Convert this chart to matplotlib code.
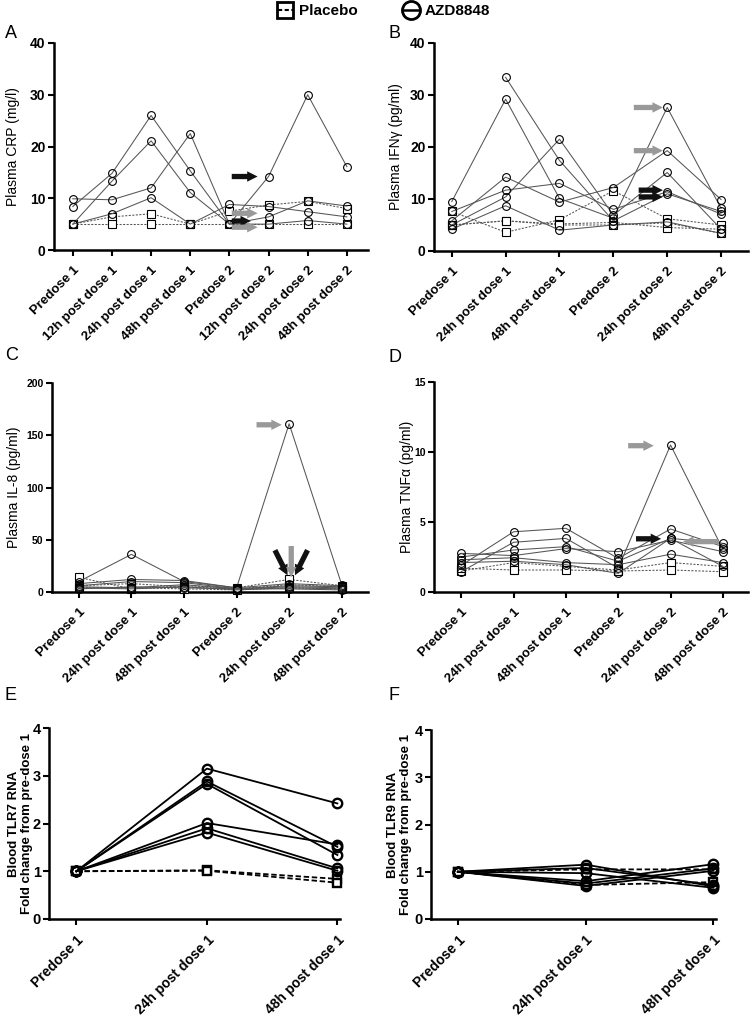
import numpy as np
import matplotlib
matplotlib.use('Agg')
import matplotlib.pyplot as plt
from matplotlib.lines import Line2D

plt.rcParams['font.family'] = ['Liberation Sans', 'DejaVu Sans']

nan = np.nan

# ---------------- data ----------------
crp_categories = ['Predose 1', '12h post dose 1', '24h post dose 1', '48h post dose 1',
                  'Predose 2', '12h post dose 2', '24h post dose 2', '48h post dose 2']
crp_azd = [
    [8.4, 14.8, 26.0, 15.3, 5.0, 14.2, 30.0, 16.1],
    [5.0, 13.3, 21.1, 11.1, 5.0, 6.4, 9.5, 8.5],
    [9.9, 9.7, 12.0, 22.5, 5.0, 5.0, 5.7, 5.0],
    [5.0, 7.0, 10.1, 5.0, 8.8, 8.4, 7.4, 6.4],
]
crp_placebo = [
    [5.0, 6.4, 7.0, 5.0, 7.5, 8.7, 9.4, 8.0],
    [5.0, 5.0, 5.0, 5.0, 5.0, 5.0, 5.0, 5.0],
]

six_categories = ['Predose 1', '24h post dose 1', '48h post dose 1',
                  'Predose 2', '24h post dose 2', '48h post dose 2']
ifn_azd = [
    [4.2, 8.7, 4.0, 5.0, 5.6, 3.4],
    [9.5, 29.2, 10.1, 6.3, 27.6, 8.2],
    [nan, 33.4, 17.4, 5.8, 11.0, 7.6],
    [5.0, 10.4, 21.5, 6.9, 15.1, 4.2],
    [5.8, 14.2, 9.4, 12.2, 19.3, 9.9],
    [7.6, 11.7, 13.0, 8.0, 11.4, 7.1],
]
ifn_placebo = [
    [7.6, 3.6, 6.0, 11.6, 6.2, 5.0],
    [5.0, 5.8, 5.2, 5.5, 4.5, 4.2],
    [5.0, 5.8, 5.0, 5.0, 5.4, 3.4],
]

il8_azd = [
    [10, 36, 10, 4, 161, 7],
    [8, 12, 11, 4, 8, 6],
    [6, 10, 9, 3, 6, 5],
    [5, 4, 7, 3, 5, 4],
    [4, 3, 5, 2, 4, 3],
    [3, 5, 4, 3, 3, 2],
]
il8_placebo = [
    [14, 3, 6, 4, 12, 6],
    [6, 8, 5, 3, 7, 5],
    [4, 4, 3, 2, 4, 3],
]

tnf_azd = [
    [1.45, 3.55, 3.83, 1.70, 10.5, 3.05],
    [1.90, 4.30, 4.55, 2.40, 4.50, 3.24],
    [2.50, 3.00, 3.24, 2.20, 3.83, 3.48],
    [2.76, 2.60, 3.10, 2.88, 3.70, 2.88],
    [2.30, 2.45, 2.10, 1.95, 2.70, 2.10],
    [2.10, 2.20, 1.95, 1.33, 3.83, 1.83],
]
tnf_placebo = [
    [1.50, 2.10, 1.83, 1.57, 2.10, 1.83],
    [1.70, 1.57, 1.57, 1.50, 1.57, 1.45],
]

tlr_categories = ['Predose 1', '24h post dose 1', '48h post dose 1']
tlr7_azd = [
    [1, 3.15, 2.42],
    [1, 2.88, 1.51],
    [1, 2.83, 1.34],
    [1, 2.01, 1.56],
    [1, 1.90, 1.06],
    [1, 1.81, 1.01],
]
tlr7_placebo = [
    [1, 1.02, 0.84],
    [1, 1.01, 0.76],
]
tlr9_azd = [
    [1, 1.15, 0.69],
    [1, 1.08, 0.72],
    [1, 0.97, 0.66],
    [1, 0.80, 1.16],
    [1, 0.75, 1.07],
    [1, 0.70, 1.02],
]
tlr9_placebo = [
    [1, 1.05, 1.05],
    [1, 0.72, 0.78],
]

# ---------------- figure ----------------
W, H = 752, 1018
fig = plt.figure(figsize=(W / 100, H / 100), dpi=100)


def make_axes(l, t, r, b):
    return fig.add_axes([l / W, 1 - b / H, (r - l) / W, (b - t) / H])


def draw_panel(ax, cats, azd, placebo, ylim, yticks, xlim, bold_style=False,
               ytick_size=10, xtick_size=9.5):
    x = np.arange(len(cats))
    if bold_style:
        lc, lw, ms, mew = 'black', 1.3, 6.8, 1.7
        dash = (3, 1.5)
    else:
        lc, lw, ms, mew = '#555555', 0.75, 5.6, 0.8
        dash = (2, 1.4)
    for row in placebo:
        ax.plot(x, row, color=lc, lw=lw, ls=(0, dash), marker='s', ms=ms * 0.95,
                mfc='white', mec='black', mew=mew, clip_on=False, zorder=3)
    for row in azd:
        ax.plot(x, row, color=lc, lw=lw, ls='-', marker='o', ms=ms,
                mfc='none', mec='black', mew=mew, clip_on=False, zorder=4)
    ax.set_xlim(*xlim)
    ax.set_ylim(*ylim)
    ax.set_yticks(yticks)
    ax.set_yticklabels([str(v) for v in yticks], fontweight='bold', fontsize=ytick_size)
    ax.set_xticks(x)
    ax.set_xticklabels(cats, rotation=45, ha='right', rotation_mode='anchor',
                       fontweight='bold', fontsize=xtick_size)
    for s in ['top', 'right']:
        ax.spines[s].set_visible(False)
    for s in ['left', 'bottom']:
        ax.spines[s].set_linewidth(1.8)
    ax.tick_params(axis='y', direction='out', length=4, width=1.5, pad=2)
    ax.tick_params(axis='x', direction='out', length=4, width=1.5, pad=6)


def arrow(ax, tail, head, color):
    ax.annotate('', xy=head, xytext=tail,
                arrowprops=dict(arrowstyle='simple,head_length=0.75,head_width=0.75,tail_width=0.38',
                                color=color, shrinkA=0, shrinkB=0, lw=0),
                zorder=6, annotation_clip=False)


GRAY = '#999999'
BLACK = '#111111'

# Panel A
axA = make_axes(54, 43, 368, 250)
draw_panel(axA, crp_categories, crp_azd, crp_placebo, (0, 40), [0, 10, 20, 30, 40], (-0.48, 7.54))
axA.set_ylabel('Plasma CRP (mg/l)', fontsize=10)
axA.yaxis.set_label_coords(-0.108, 0.5)
arrow(axA, (4.06, 14.2), (4.72, 14.2), BLACK)
arrow(axA, (4.06, 5.6), (4.55, 5.6), BLACK)
arrow(axA, (4.06, 7.1), (4.72, 7.1), GRAY)
arrow(axA, (4.06, 4.4), (4.72, 4.4), GRAY)

# Panel B
axB = make_axes(434, 43, 748, 251)
draw_panel(axB, six_categories, ifn_azd, ifn_placebo, (0, 40), [0, 10, 20, 30, 40], (-0.33, 5.5))
axB.set_ylabel('Plasma IFNγ (pg/ml)', fontsize=10)
axB.yaxis.set_label_coords(-0.099, 0.5)
arrow(axB, (3.38, 27.6), (3.92, 27.6), GRAY)
arrow(axB, (3.38, 19.3), (3.92, 19.3), GRAY)
arrow(axB, (3.47, 11.7), (3.92, 11.7), BLACK)
arrow(axB, (3.47, 10.4), (3.92, 10.4), BLACK)

# Panel C
axC = make_axes(52, 383, 368, 592)
draw_panel(axC, six_categories, il8_azd, il8_placebo, (0, 200), [0, 50, 100, 150, 200], (-0.51, 5.5),
           ytick_size=7.5)
axC.set_ylabel('Plasma IL-8 (pg/ml)', fontsize=10)
axC.yaxis.set_label_coords(-0.098, 0.5)
arrow(axC, (3.38, 160), (3.86, 160), GRAY)
arrow(axC, (3.73, 40), (3.97, 16), BLACK)
arrow(axC, (4.35, 40), (4.11, 16), BLACK)
arrow(axC, (4.04, 44), (4.04, 14), GRAY)

# Panel D
axD = make_axes(434, 382, 748, 592)
draw_panel(axD, six_categories, tnf_azd, tnf_placebo, (0, 15), [0, 5, 10, 15], (-0.52, 5.48),
           ytick_size=7.5)
axD.set_ylabel('Plasma TNFα (pg/ml)', fontsize=10)
axD.yaxis.set_label_coords(-0.064, 0.5)
arrow(axD, (3.19, 10.45), (3.68, 10.45), GRAY)
arrow(axD, (3.34, 3.8), (3.82, 3.8), BLACK)
arrow(axD, (4.92, 3.6), (4.24, 3.6), GRAY)

# Panel E
axE = make_axes(49, 728, 340, 919)
draw_panel(axE, tlr_categories, tlr7_azd, tlr7_placebo, (0, 4), [0, 1, 2, 3, 4], (-0.21, 2.02),
           bold_style=True, ytick_size=10.5, xtick_size=10)
axE.set_ylabel('Blood TLR7 RNA\nFold change from pre-dose 1', fontsize=9.5, fontweight='bold',
               linespacing=1.15)
axE.yaxis.set_label_coords(-0.055, 0.5)

# Panel F
axF = make_axes(431, 730, 716, 919)
draw_panel(axF, tlr_categories, tlr9_azd, tlr9_placebo, (0, 4), [0, 1, 2, 3, 4], (-0.21, 2.02),
           bold_style=True, ytick_size=10.5, xtick_size=10)
axF.set_ylabel('Blood TLR9 RNA\nFold change from pre-dose 1', fontsize=9.5, fontweight='bold',
               linespacing=1.15)
axF.yaxis.set_label_coords(-0.067, 0.5)

# Panel letters
for lbl, (px, py) in {'A': (5, 33), 'B': (388, 33), 'C': (5, 355), 'D': (389, 357),
                      'E': (4, 695), 'F': (388, 695)}.items():
    fig.text(px / W, 1 - py / H, lbl, fontsize=13, ha='left', va='center')

# Legend
handles = [
    Line2D([], [], color='black', ls=(0, (2, 1.2)), lw=1.5, marker='s', ms=12,
           mfc='none', mec='black', mew=2.0),
    Line2D([], [], color='black', ls='-', lw=1.8, marker='o', ms=13,
           mfc='none', mec='black', mew=2.0),
]
fig.legend(handles, ['Placebo', 'AZD8848'], loc='center', bbox_to_anchor=(384 / W, 1 - 11 / H),
           ncol=2, frameon=False, handlelength=1.0, columnspacing=3.0, handletextpad=0.4,
           prop={'weight': 'bold', 'size': 11})

fig.savefig('out.png', dpi=100)
